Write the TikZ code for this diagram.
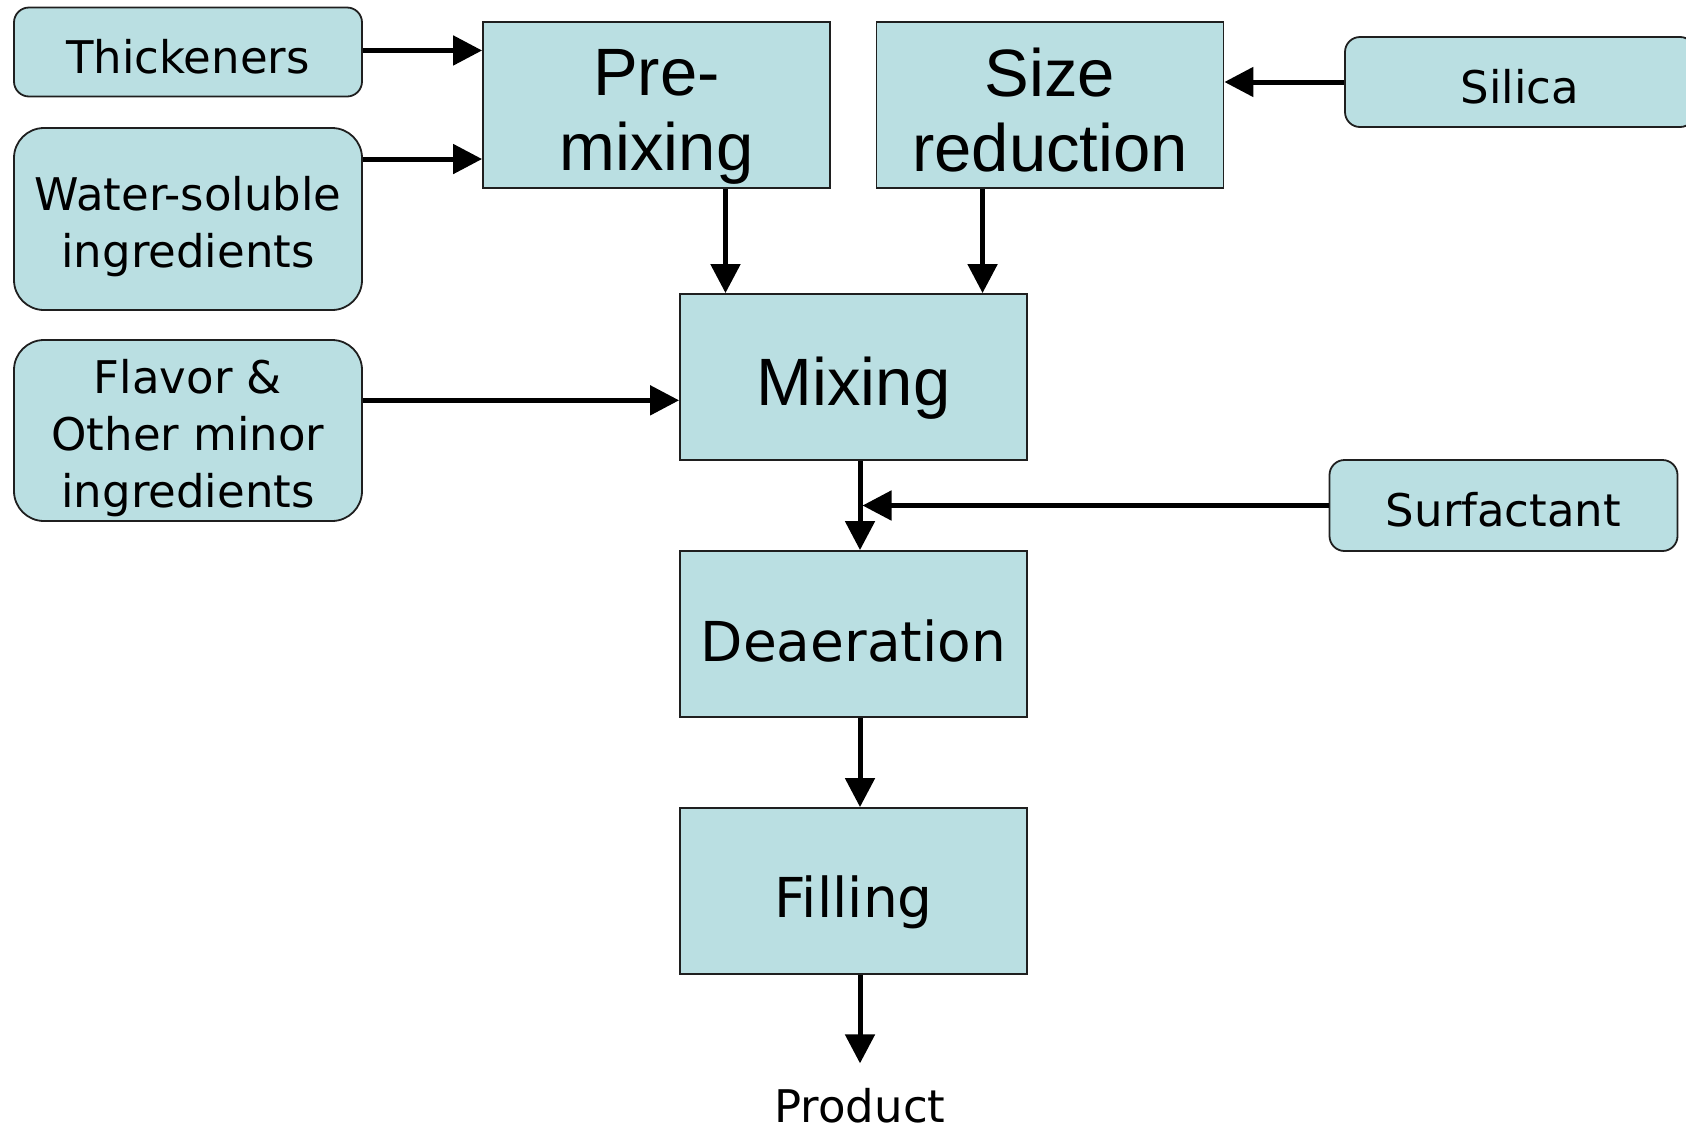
\documentclass[tikz,border=0pt]{standalone}
\usepackage{fontspec}
\newfontfamily\smallf{DejaVu Sans}
\newfontfamily\bigf{Liberation Sans}
\usetikzlibrary{arrows.meta,calc}
\definecolor{boxfill}{RGB}{186,223,226}
\begin{document}
\begin{tikzpicture}[x=1pt,y=-1pt,
  inbox/.style={draw=black!88, line width=1.8pt, fill=boxfill, rounded corners=#1,
    minimum width=348pt, inner sep=0pt},
  inbox/.default=15pt,
  proc/.style={draw=black!88, line width=1.8pt, fill=boxfill,
    minimum width=347pt, minimum height=166pt, inner sep=0pt},
  smalltxt/.style={align=center, inner sep=0pt, font=\smallf\fontsize{45}{57}\selectfont},
  bigtxt/.style={align=center, inner sep=0pt, font=\bigf\fontsize{67}{75}\selectfont},
  widetxt/.style={align=center, inner sep=0pt, font=\smallf\fontsize{55}{66}\selectfont},
  arr/.style={line width=5pt, -{Triangle[length=29pt,width=29pt]}}
]
\useasboundingbox (0,0) rectangle (1686,1128);
\clip (0,0) rectangle (1686,1128);

% input boxes
\node[inbox, minimum height=89pt] (thick) at (188,52) {};
\node[inbox=30pt, minimum height=182pt] (water) at (188,219) {};
\node[inbox=30pt, minimum height=181pt] (flavor) at (188,430.5) {};
\node[inbox, minimum width=350pt, minimum height=90pt] (silica) at (1520,82) {};
\node[inbox, minimum height=91pt] (surf) at (1503.5,505.5) {};

\node[smalltxt, yshift=-4.5pt] (thick-t) at (thick.center) {Thickeners};
\node[smalltxt, yshift=-7.5pt] (water-t) at (water.center) {Water-soluble\\ingredients};
\node[smalltxt, yshift=-7.5pt] (flavor-t) at (flavor.center) {Flavor \&\\Other minor\\ingredients};
\node[smalltxt, yshift=-4.5pt] (silica-t) at (silica.center) {Silica};
\node[smalltxt, yshift=-4.5pt] (surf-t) at (surf.center) {Surfactant};

% process boxes
\node[proc] (premix) at (656.5,105) {};
\node[proc] (size) at (1050,105) {};
\node[proc] (mixing) at (853.5,377) {};
\node[proc] (deaer) at (853.5,634) {};
\node[proc] (filling) at (853.5,891) {};

\node[bigtxt, yshift=-12pt] (premix-t) at (premix.center) {Pre-\\mixing};
\node[bigtxt, yshift=-5.5pt] (size-t) at (size.center) {Size\\reduction};
\node[bigtxt, yshift=-11pt] (mixing-t) at (mixing.center) {Mixing};
\node[widetxt, yshift=-6.5pt] (deaer-t) at (deaer.center) {Deaeration};
\node[widetxt, yshift=-11pt] (filling-t) at (filling.center) {Filling};

\node[smalltxt] (product) at (860,1106) {Product};

% connection points
\coordinate (p1) at ($(premix.north west)!0.175!(premix.south west)$);
\coordinate (p2) at ($(premix.north west)!0.822!(premix.south west)$);
\coordinate (m1) at ($(mixing.north west)!0.133!(mixing.north east)$);
\coordinate (m2) at ($(mixing.north west)!0.87!(mixing.north east)$);
\coordinate (m3) at ($(mixing.north west)!0.639!(mixing.south west)$);
\coordinate (ms) at ($(mixing.south)+(6.5,0)$);

% connectors
\draw[arr] (thick.east |- p1) -- (p1);
\draw[arr] (water.east |- p2) -- (p2);
\draw[arr] (silica.west) -- (silica.west -| size.east);
\draw[arr] (premix.south -| m1) -- (m1);
\draw[arr] (size.south -| m2) -- (m2);
\draw[arr] (flavor.east |- m3) -- (m3);
\draw[arr] (ms) -- (ms |- deaer.north);
\draw[arr, shorten >=2.5pt] (surf.west) -- (surf.west -| ms);
\draw[arr] (deaer.south -| ms) -- (filling.north -| ms);
\draw[arr, shorten >=25pt] (filling.south -| ms) -- (product.north -| ms);
\end{tikzpicture}
\end{document}
